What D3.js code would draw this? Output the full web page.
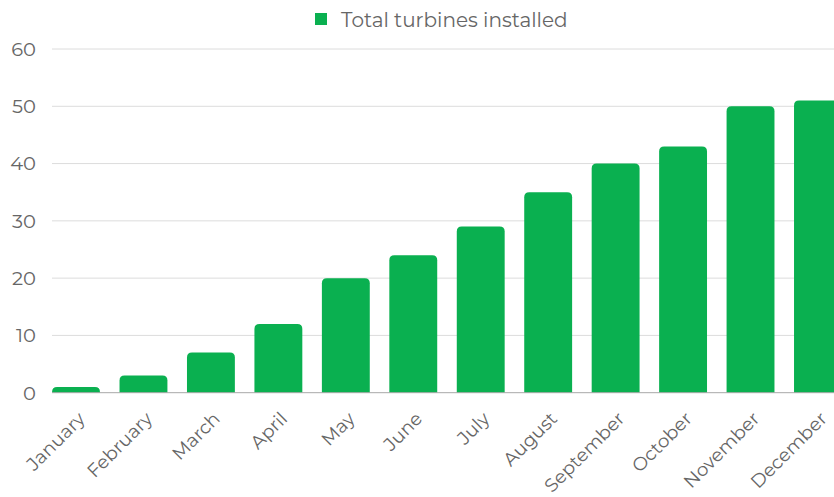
<!DOCTYPE html>
<html><head><meta charset="utf-8">
<script src="https://cdn.jsdelivr.net/npm/d3@7"></script>
<style>html,body{margin:0;padding:0;background:#fff;overflow:hidden}</style>
</head><body>
<svg id="c" width="834" height="497"></svg>
<script>
const categories = ["January","February","March","April","May","June","July","August","September","October","November","December"];
const values = [1,3,7,12,20,24,29,35,40,43,50,51];
const yTicks = [0,10,20,30,40,50,60];
const seriesName = "Total turbines installed";

const W = 834, H = 497;
const color = "#0ab050";
const font = "Montserrat, 'Open Sans', sans-serif";
const svg = d3.select("#c");

const x = d3.scaleBand().domain(categories).range([42.3, 851.7]).paddingInner(0.29).paddingOuter(0.145);
const y = d3.scaleLinear().domain([0, 60]).range([392.7, 49]);

// gridlines
svg.append("g").selectAll("line").data(yTicks.filter(d => d > 0)).join("line")
  .attr("x1", 52).attr("x2", W).attr("y1", d => y(d)).attr("y2", d => y(d))
  .attr("stroke", "#dcdcdc").attr("stroke-width", 1);

// y labels
svg.append("g").selectAll("text").data(yTicks).join("text")
  .attr("x", 36).attr("y", d => y(d)).attr("dy", "0.35em")
  .attr("text-anchor", "end").attr("fill", "#666").attr("font-family", font).attr("font-size", 19.5)
  .text(d => d);

// bars with rounded top corners
const r = 5;
function barPath(x0, w, yTop, yBase) {
  const rr = Math.min(r, (yBase - yTop), w / 2);
  return `M${x0},${yBase}V${yTop + rr}Q${x0},${yTop} ${x0 + rr},${yTop}H${x0 + w - rr}Q${x0 + w},${yTop} ${x0 + w},${yTop + rr}V${yBase}Z`;
}
svg.append("g").selectAll("path").data(values).join("path")
  .attr("d", (d, i) => barPath(x(categories[i]), x.bandwidth(), y(d), y(0)))
  .attr("fill", color);

// baseline
svg.append("line").attr("x1", 52).attr("x2", W).attr("y1", y(0)).attr("y2", y(0))
  .attr("stroke", "#a8a8a8").attr("stroke-width", 1);

// x labels
svg.append("g").selectAll("text").data(categories).join("text")
  .attr("transform", d => `translate(${x(d) + x.bandwidth() / 2 + 1},${y(0) + 18}) rotate(-45)`)
  .attr("text-anchor", "end").attr("dy", "0.7em")
  .attr("fill", "#666").attr("font-family", font).attr("font-size", 18.5)
  .text(d => d);

// legend
const lg = svg.append("g");
lg.append("rect").attr("x", 315).attr("y", 13).attr("width", 12).attr("height", 12).attr("fill", color);
lg.append("text").attr("x", 341).attr("y", 26.5).attr("fill", "#666").attr("font-family", font).attr("font-size", 20)
  .text(seriesName);
</script>
</body></html>
